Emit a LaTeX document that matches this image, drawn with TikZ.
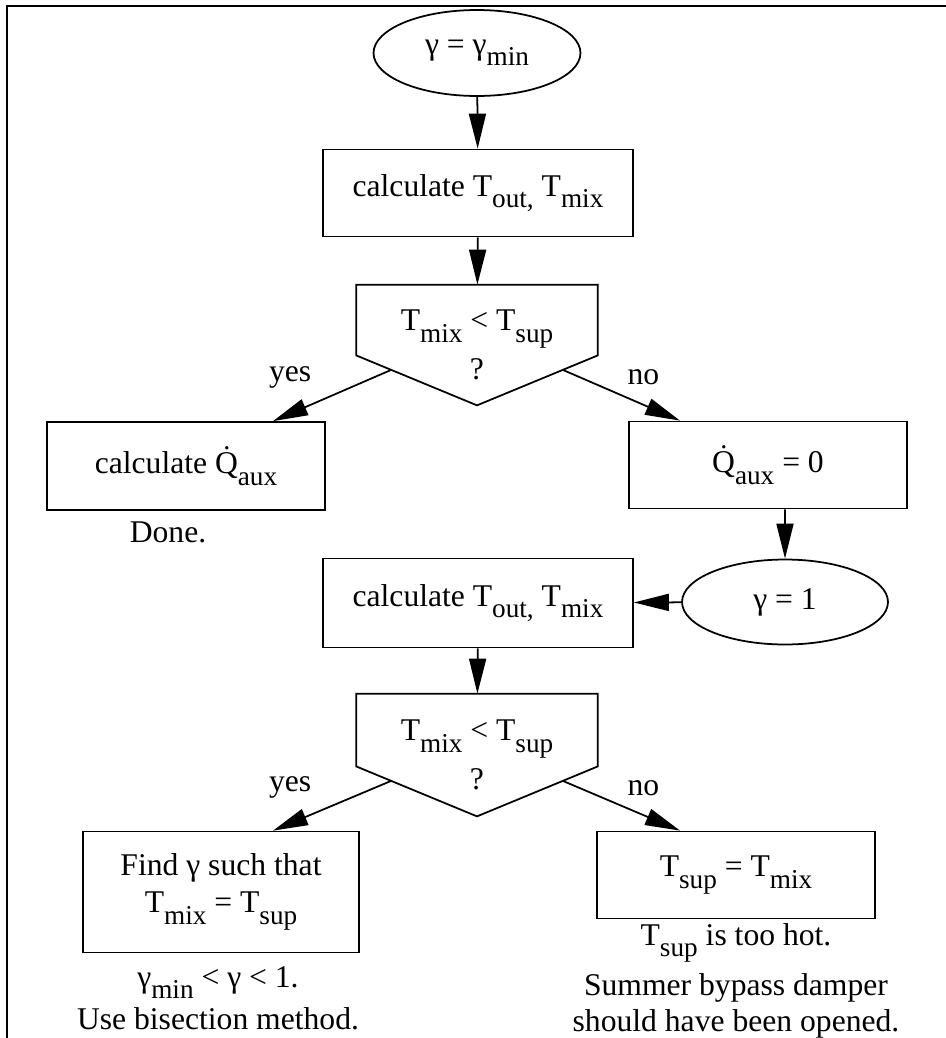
\documentclass[tikz,border=0pt]{standalone}
\usepackage{fontspec}
\setmainfont{Liberation Serif}
\usetikzlibrary{arrows.meta}
\usetikzlibrary{shapes.geometric}
\usetikzlibrary{positioning}
\usetikzlibrary{calc}
\newcommand{\lo}[1]{\raisebox{-6.5pt}{\fontsize{15.5}{15.5}\selectfont #1}}
\newcommand{\boxw}{5.56cm}

\begin{document}
\begin{tikzpicture}[x=0.02cm,y=-0.02cm,line width=1pt,
    every node/.style={font=\fontsize{18}{21}\selectfont}]
    \useasboundingbox (0,0) rectangle (946,1038);
    % frame
    \draw (7,1038) -- (7,6) -- (946,6);

    \begin{scope}[every node/.style={draw,font=\fontsize{18}{21}\selectfont,align=center}]
        \node[ellipse,minimum width=4.14cm,minimum height=1.72cm] (start) at (477,53) {γ = γ\lo{min}};
        \node[minimum width=6.2cm,minimum height=1.74cm] (calc1) at (478,193) {calculate T\lo{out,} T\lo{mix}};
        \node[draw=none,minimum width=4.8cm,minimum height=2.38cm] (test1) at (477,345) {T\lo{mix} < T\lo{sup}\\[5pt]?};
        \node[minimum width=\boxw,minimum height=1.76cm] (calcq) at (186,466) {calculate \.{Q}\lo{aux}};
        \node[minimum width=\boxw,minimum height=1.74cm] (zero) at (768,465) {\.{Q}\lo{aux} = 0};
        \node[ellipse,minimum width=4.12cm,minimum height=1.7cm] (gone) at (785,602) {γ = 1};
        \node[minimum width=6.2cm,minimum height=1.78cm] (calc2) at (478,603) {calculate T\lo{out,} T\lo{mix}};
        \node[draw=none,minimum width=4.8cm,minimum height=2.42cm] (test2) at (477,755) {T\lo{mix} < T\lo{sup}\\[5pt]?};
        \node[minimum width=5.52cm,minimum height=2.42cm] (find) at (221,892) {Find γ such that\\T\lo{mix} = T\lo{sup}};
        \node[minimum width=\boxw,minimum height=1.74cm] (hot) at (736,875) {T\lo{sup} = T\lo{mix}};
    \end{scope}

    % decision outlines
    \foreach \d in {test1,test2}
        \draw (\d.north west) -- (\d.north east) -- ([yshift=1cm]\d.south east)
            -- (\d.south) -- ([yshift=1cm]\d.south west) -- cycle;
    \coordinate (test1yes) at ($([yshift=1cm]test1.south west)!0.29!(test1.south)$);
    \coordinate (test1no) at ($([yshift=1cm]test1.south east)!0.29!(test1.south)$);
    \coordinate (test2yes) at ($([yshift=1cm]test2.south west)!0.29!(test2.south)$);
    \coordinate (test2no) at ($([yshift=1cm]test2.south east)!0.29!(test2.south)$);

    % notes
    \node (done) at (168,532) {Done.};
    \node (bisect) at (218,998) [align=center] {γ\lo{min} < γ < 1.\\[3pt]Use bisection method.};
    \node (toohot) at (736,981) [align=center] {T\lo{sup} is too hot.\\[5pt]Summer bypass damper\\should have been opened.};

    \begin{scope}[>={Triangle[length=0.7cm,width=0.34cm]},
        yes/.style={xshift=-0.84cm,yshift=0.36cm},
        no/.style={xshift=0.44cm,yshift=0.36cm}]
        \path [->] (start) edge (calc1);
        \path [->] (calc1) edge (test1);
        \path [->] (test1yes) edge node[yes] {yes} ([xshift=1.74cm]calcq.north);
        \path [->] (test1no) edge node[no] {no} ([xshift=-1.76cm]zero.north);
        \path [->] ([xshift=0.34cm]zero.south) edge (gone.north);
        \path [->] (gone) edge (calc2);
        \path [->] (calc2) edge (test2);
        \path [->] (test2yes) edge node[yes] {yes} ([xshift=1.04cm]find.north);
        \path [->] (test2no) edge node[no] {no} ([xshift=-1.12cm]hot.north);
    \end{scope}
\end{tikzpicture}
\end{document}
